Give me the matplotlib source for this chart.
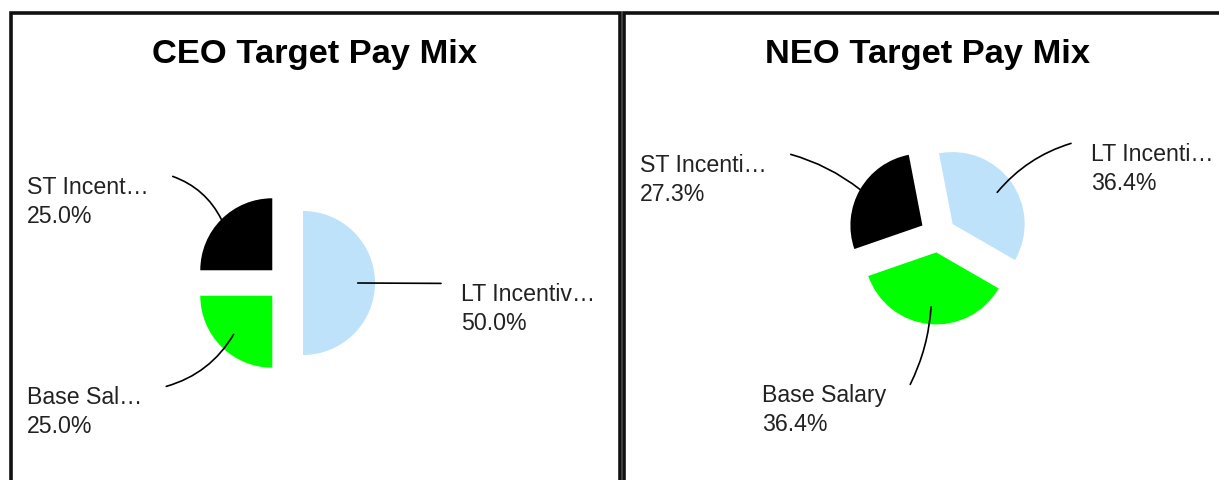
import matplotlib
matplotlib.use("Agg")
import matplotlib.pyplot as plt
import numpy as np

plt.rcParams["font.family"] = ["Liberation Sans", "DejaVu Sans"]

# DATA
titles = ["CEO Target Pay Mix", "NEO Target Pay Mix"]
ceo_names = ["LT Incentiv…", "ST Incent…", "Base Sal…"]
neo_names = ["LT Incenti…", "ST Incenti…", "Base Salary"]
ceo_pct = [50.0, 25.0, 25.0]
neo_pct = [36.4, 27.3, 36.4]
slice_colors = ["#bfe2fb", "#000000", "#00ff00"]

# LAYOUT (pixels, image y measured from top)
W, H = 1219, 481
pie_centers = [(285, 284), (938, 235.5)]
start_angles = [-90, -30]
radius = 72
title_pos = [(315, 63), (928, 63)]
# label anchor: (left x, baseline of first line), and which side the leader leaves from
label_pos = [
    [(461, 301, "left"), (27, 194, "right"), (27, 404, "right")],
    [(1091, 161, "left"), (640, 172, "right"), (762, 402, "right")],
]
leader_depth = [0.76, 1.0, 0.76]
leader_rad = [[0.0, -0.2, 0.2], [0.15, -0.1, 0.1]]
label_fs = 16.7
title_fs = 24.8


def flip(y):
    return H - y


fig = plt.figure(figsize=(W / 100, H / 100), dpi=100)
ax = fig.add_axes([0, 0, 1, 1])

# panel borders
bc = "#111111"
lw = 2.6
ax.plot([11, 11, 619.5, 619.5], [-10, flip(14), flip(14), -10], color=bc, lw=lw,
        solid_joinstyle="miter")
ax.plot([623.5, 623.5, W + 10], [-10, flip(14), flip(14)], color=bc, lw=lw,
        solid_joinstyle="miter")

all_wedges = []
for i, (vals, names) in enumerate([(ceo_pct, ceo_names), (neo_pct, neo_names)]):
    cx, cy = pie_centers[i]
    wedges, _ = ax.pie(vals, colors=slice_colors, radius=radius,
                       center=(cx, flip(cy)), startangle=start_angles[i],
                       counterclock=True, explode=[radius * 0.25] * 3,
                       wedgeprops=dict(linewidth=0, edgecolor="none"))
    all_wedges.append(wedges)
    tx, ty = title_pos[i]
    ax.text(tx, flip(ty), titles[i], ha="center", va="baseline",
            fontsize=title_fs, fontweight="bold", color="black")

ax.set_xlim(0, W)
ax.set_ylim(0, H)
ax.set_aspect("equal")
ax.set_axis_off()

fig.canvas.draw()
renderer = fig.canvas.get_renderer()
cap = 0.716 * label_fs * 100 / 72

for i, (vals, names) in enumerate([(ceo_pct, ceo_names), (neo_pct, neo_names)]):
    for j, (v, name) in enumerate(zip(vals, names)):
        lx, ly, side = label_pos[i][j]
        t = ax.text(lx, flip(ly), name, ha="left", va="baseline", fontsize=label_fs,
                    color="#222222")
        ax.text(lx, flip(ly + 29), f"{v:.1f}%", ha="left", va="baseline",
                fontsize=label_fs, color="#222222")
        bb = t.get_window_extent(renderer)
        sy = flip(ly) + cap
        sx = bb.x1 + 24 if side == "right" else bb.x0 - 20
        w = all_wedges[i][j]
        th = np.deg2rad((w.theta1 + w.theta2) / 2)
        ex = w.center[0] + leader_depth[j] * w.r * np.cos(th)
        ey = w.center[1] + leader_depth[j] * w.r * np.sin(th)
        ax.annotate("", xy=(ex, ey), xytext=(sx, sy),
                    arrowprops=dict(arrowstyle="-", color="black", lw=1.2,
                                    shrinkA=0, shrinkB=0,
                                    connectionstyle=f"arc3,rad={leader_rad[i][j]}"))

fig.savefig("out.png", dpi=100)
